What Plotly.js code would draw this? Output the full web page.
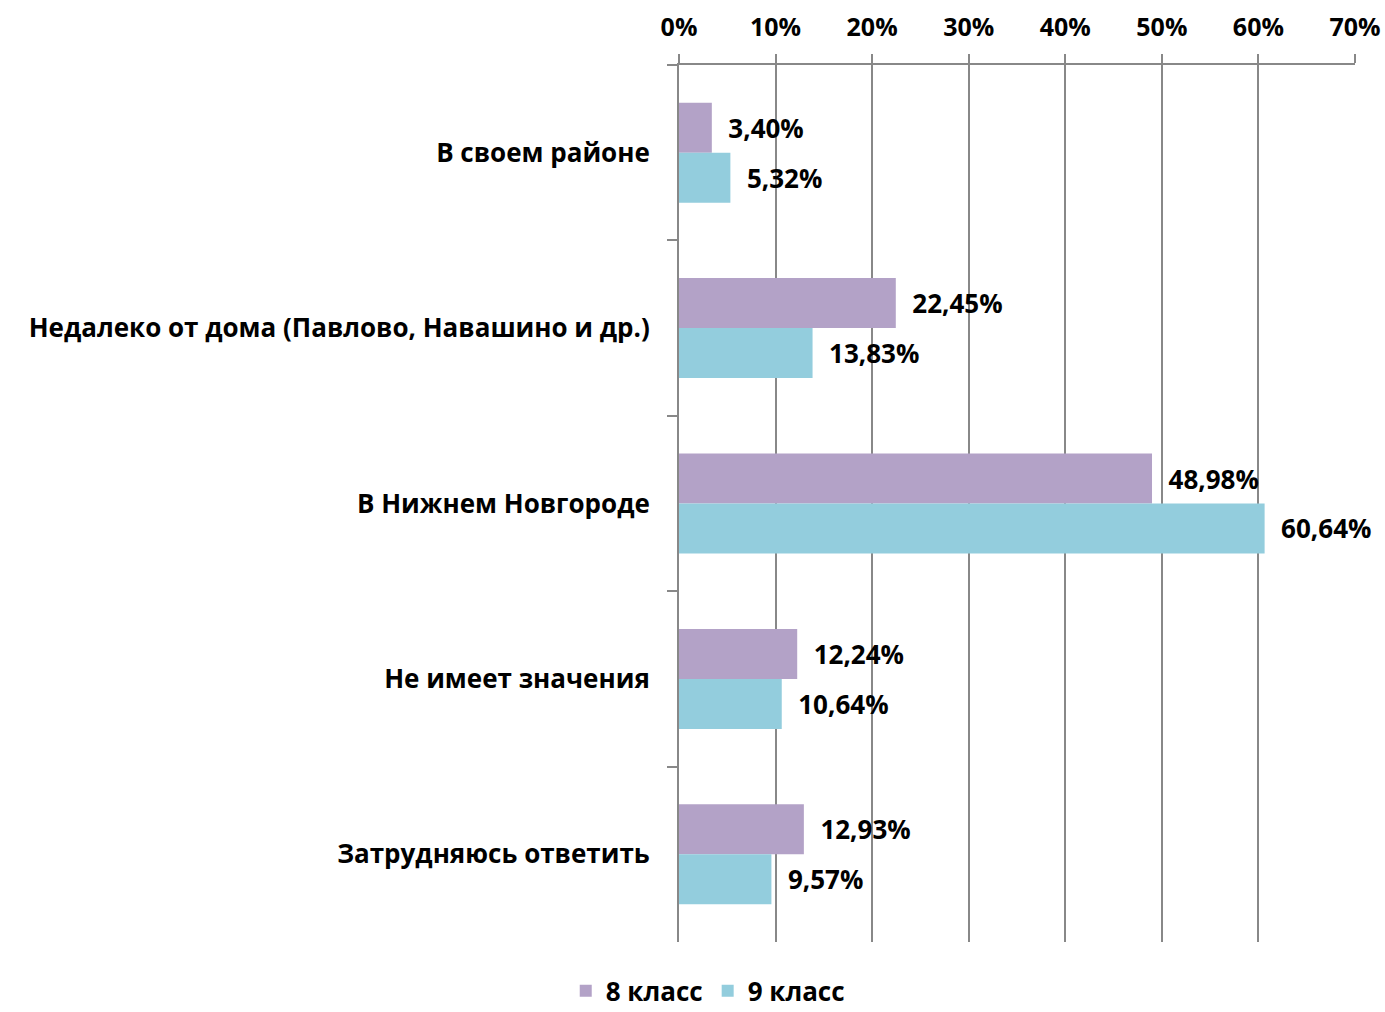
<!DOCTYPE html>
<html>
<head>
<meta charset="utf-8">
<script src="https://cdn.plot.ly/plotly-3.0.1.min.js"></script>
<style>html,body{margin:0;padding:0;background:#fff;}#chart{width:1385px;height:1012px;}</style>
</head>
<body>
<div id="chart"></div>
<script>
const categories = ["В своем районе", "Недалеко от дома (Павлово, Навашино и др.)", "В Нижнем Новгороде", "Не имеет значения", "Затрудняюсь ответить"];
const grade8 = [3.40, 22.45, 48.98, 12.24, 12.93];
const grade9 = [5.32, 13.83, 60.64, 10.64, 9.57];
const seriesNames = ["8 класс", "9 класс"];
const tickValues = [0, 10, 20, 30, 40, 50, 60, 70];
const tickLabels = ["0%", "10%", "20%", "30%", "40%", "50%", "60%", "70%"];

const FONT = "Open Sans, sans-serif";
const fmt = v => "\u00a0\u00a0" + v.toFixed(2).replace(".", ",") + "%";

function trace(vals, name, color) {
  return {
    type: "bar", orientation: "h", name: name,
    x: vals, y: categories,
    marker: {color: color},
    text: vals.map(fmt), textposition: "outside",
    textfont: {family: FONT, size: 26, color: "#000", weight: "bold"},
    cliponaxis: false, hoverinfo: "skip"
  };
}

const data = [trace(grade8, seriesNames[0], "#b3a2c7"), trace(grade9, seriesNames[1], "#93cddd")];

const layout = {
  width: 1385, height: 1012,
  margin: {l: 679, r: 30, t: 65, b: 70},
  paper_bgcolor: "#fff", plot_bgcolor: "#fff",
  font: {family: FONT, size: 26, color: "#000", weight: "bold"},
  barmode: "group", bargap: 0.43, bargroupgap: 0,
  showlegend: true,
  legend: {orientation: "h", xref: "container", x: 0.511, xanchor: "center", yref: "container", y: 0.044, yanchor: "top",
           font: {family: FONT, size: 26, color: "#000", weight: "bold"}, traceorder: "normal", itemwidth: 30},
  xaxis: {
    side: "top", range: [0, 70], tickvals: tickValues, ticktext: tickLabels,
    showgrid: true, gridcolor: "#888", gridwidth: 2,
    showline: true, linecolor: "#888", linewidth: 2,
    ticks: "outside", ticklen: 9, tickcolor: "#888", tickwidth: 2,
    ticklabelstandoff: 8,
    tickfont: {family: FONT, size: 25, color: "#000", weight: "bold"},
    zeroline: false, fixedrange: true
  },
  yaxis: {
    type: "category", autorange: "reversed",
    showline: true, linecolor: "#888", linewidth: 2,
    ticks: "outside", tickson: "boundaries", ticklen: 10, tickcolor: "#888", tickwidth: 2,
    showgrid: false, ticklabelstandoff: 22,
    tickfont: {family: FONT, size: 26, color: "#000", weight: "bold"},
    fixedrange: true
  }
};

Plotly.newPlot("chart", data, layout, {displayModeBar: false, staticPlot: true});
</script>
</body>
</html>
